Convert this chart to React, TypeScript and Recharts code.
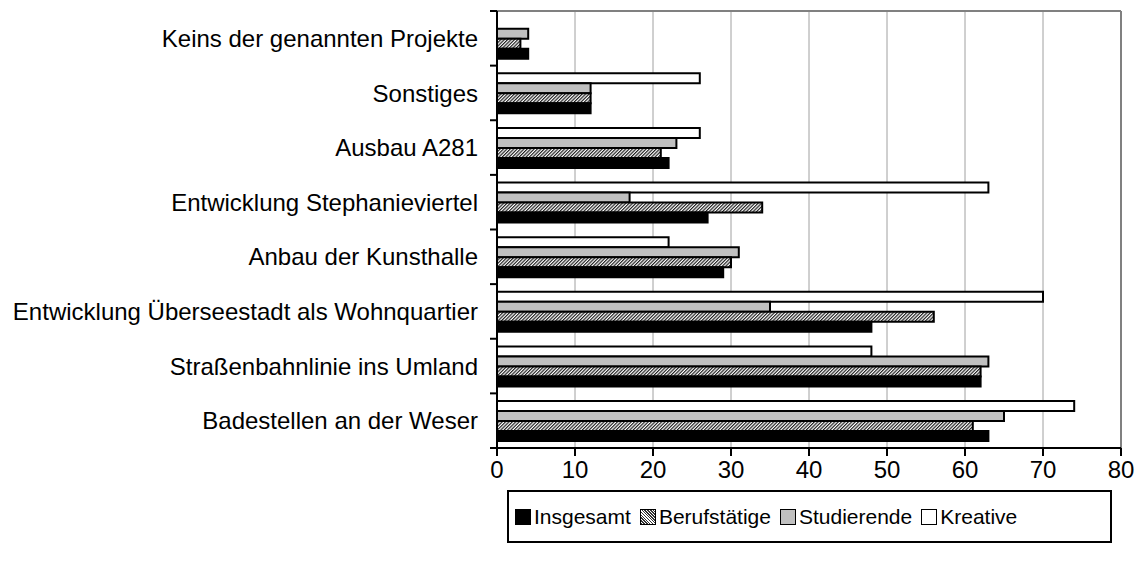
import { BarChart, Bar, XAxis, YAxis, CartesianGrid, ReferenceLine, Legend } from 'recharts';

const categories = [
  'Keins der genannten Projekte',
  'Sonstiges',
  'Ausbau A281',
  'Entwicklung Stephanieviertel',
  'Anbau der Kunsthalle',
  'Entwicklung Überseestadt als Wohnquartier',
  'Straßenbahnlinie ins Umland',
  'Badestellen an der Weser',
];

const insgesamt = [4, 12, 22, 27, 29, 48, 62, 63];
const berufstaetige = [3, 12, 21, 34, 30, 56, 62, 61];
const studierende = [4, 12, 23, 17, 31, 35, 63, 65];
const kreative = [null, 26, 26, 63, 22, 70, 48, 74];

const xTicks = [0, 10, 20, 30, 40, 50, 60, 70, 80];

const data = categories.map((name, i) => ({
  name,
  insgesamt: insgesamt[i],
  berufstaetige: berufstaetige[i],
  studierende: studierende[i],
  kreative: kreative[i],
}));

const WIDTH = 1139;
const HEIGHT = 563;
const MARGIN = { top: 11, right: 18, left: 0, bottom: 75 };
const Y_AXIS_W = 497;
const X_AXIS_H = 40;
const PLOT_LEFT = MARGIN.left + Y_AXIS_W;
const PLOT_H = HEIGHT - MARGIN.top - MARGIN.bottom - X_AXIS_H;
const BAND = PLOT_H / categories.length;
const FONT = "'Liberation Sans', Arial, sans-serif";

function CategoryTick(props: any) {
  const { y, payload, index } = props;
  return (
    <g>
      <text x={PLOT_LEFT - 19} y={y} dy="0.36em" textAnchor="end" fontSize={24} fill="#000" fontFamily={FONT}>
        {payload.value}
      </text>
      <line x1={PLOT_LEFT - 7} x2={PLOT_LEFT} y1={y - BAND / 2} y2={y - BAND / 2} stroke="#000" strokeWidth={2} />
      {index === categories.length - 1 && (
        <line x1={PLOT_LEFT - 7} x2={PLOT_LEFT} y1={y + BAND / 2} y2={y + BAND / 2} stroke="#000" strokeWidth={2} />
      )}
    </g>
  );
}

const legendItems = [
  { label: 'Insgesamt', bg: '#000' },
  { label: 'Berufstätige', bg: 'repeating-linear-gradient(45deg, #333 0 1px, #fff 1px 2px)' },
  { label: 'Studierende', bg: '#c0c0c0' },
  { label: 'Kreative', bg: '#fff' },
];

function LegendBox() {
  return (
    <div
      style={{
        boxSizing: 'border-box',
        height: 53,
        border: '2px solid #000',
        display: 'flex',
        alignItems: 'center',
        paddingLeft: 6,
        fontFamily: FONT,
        fontSize: 21,
        color: '#000',
      }}
    >
      {legendItems.map((it) => (
        <div key={it.label} style={{ display: 'flex', alignItems: 'center', marginRight: 9 }}>
          <span
            style={{
              display: 'inline-block',
              boxSizing: 'border-box',
              width: 16,
              height: 16,
              border: '1.5px solid #000',
              background: it.bg,
              marginRight: 3,
            }}
          />
          <span>{it.label}</span>
        </div>
      ))}
    </div>
  );
}

export default function App() {
  return (
    <div style={{ position: 'absolute', left: 0, top: 0, width: WIDTH, height: HEIGHT, background: '#fff' }}>
      <BarChart
        width={WIDTH}
        height={HEIGHT}
        data={data}
        layout="vertical"
        margin={MARGIN}
        barCategoryGap="14%"
        barGap={0}
      >
        <defs>
          <pattern id="hatch" width="2.4" height="2.4" patternUnits="userSpaceOnUse" patternTransform="rotate(45)">
            <rect width="2.4" height="2.4" fill="#fff" />
            <rect width="1.2" height="2.4" fill="#222" />
          </pattern>
        </defs>
        <CartesianGrid horizontal={false} stroke="#a0a0a0" strokeWidth={1} />
        <CartesianGrid
          vertical={false}
          stroke="#808080"
          strokeWidth={2}
          horizontalCoordinatesGenerator={({ offset }: any) => [offset.top]}
        />
        <ReferenceLine x={80} stroke="#808080" strokeWidth={2} />
        <XAxis
          type="number"
          domain={[0, 80]}
          ticks={xTicks}
          height={X_AXIS_H}
          axisLine={{ stroke: '#000', strokeWidth: 2 }}
          tickLine={{ stroke: '#000', strokeWidth: 2 }}
          tickSize={8}
          tickMargin={5}
          tick={{ fontSize: 24, fill: '#000', fontFamily: FONT }}
        />
        <YAxis
          type="category"
          dataKey="name"
          width={Y_AXIS_W}
          axisLine={{ stroke: '#000', strokeWidth: 2 }}
          tickLine={false}
          interval={0}
          tick={<CategoryTick />}
        />
        <Legend
          verticalAlign="middle"
          align="center"
          layout="horizontal"
          wrapperStyle={{ top: 490, left: 507, width: 605 }}
          content={() => <LegendBox />}
        />
        <Bar dataKey="kreative" fill="#fff" stroke="#000" strokeWidth={2} isAnimationActive={false} />
        <Bar dataKey="studierende" fill="#c0c0c0" stroke="#000" strokeWidth={2} isAnimationActive={false} />
        <Bar dataKey="berufstaetige" fill="url(#hatch)" stroke="#000" strokeWidth={2} isAnimationActive={false} />
        <Bar dataKey="insgesamt" fill="#000" stroke="#000" strokeWidth={2} isAnimationActive={false} />
      </BarChart>
    </div>
  );
}
